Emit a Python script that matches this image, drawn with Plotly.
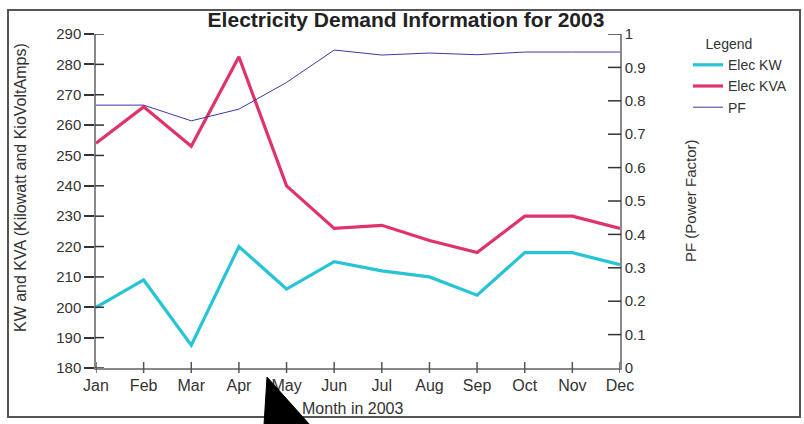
import plotly.graph_objects as go

months = ["Jan", "Feb", "Mar", "Apr", "May", "Jun", "Jul", "Aug", "Sep", "Oct", "Nov", "Dec"]
elec_kw = [200, 209, 187.5, 220, 206, 215, 212, 210, 204, 218, 218, 214]
elec_kva = [254, 266, 253, 282.5, 240, 226, 227, 222, 218, 230, 230, 226]
pf = [0.787, 0.787, 0.74, 0.775, 0.855, 0.952, 0.937, 0.943, 0.938, 0.946, 0.946, 0.946]
left_ticks = list(range(180, 300, 10))
right_ticks = [round(i / 10, 1) for i in range(0, 11)]

L, R, T, B = 96, 620, 34, 368
W, H = 804, 424
pw, ph = R - L, B - T

def px(x):
    return (x - L) / pw

def py(y):
    return (B - y) / ph

font = "Liberation Sans, Arial, sans-serif"
txt = "#333"

fig = go.Figure()
fig.add_trace(go.Scatter(x=months, y=elec_kw, name="Elec KW", mode="lines",
                         line=dict(color="#27c3d6", width=3.2)))
fig.add_trace(go.Scatter(x=months, y=elec_kva, name="Elec KVA", mode="lines",
                         line=dict(color="#e0336b", width=3.2)))
fig.add_trace(go.Scatter(x=months, y=pf, name="PF", mode="lines", yaxis="y2",
                         line=dict(color="#3a3aa0", width=1)))

fig.update_layout(
    width=W, height=H,
    margin=dict(l=L, r=W - R, t=T, b=H - B),
    paper_bgcolor="white", plot_bgcolor="white",
    font=dict(family=font, size=15, color=txt),
    showlegend=True,
    legend=dict(x=px(688), y=py(31), xanchor="left", yanchor="top",
                title=dict(text="    Legend", font=dict(size=14, color=txt), side="top"),
                font=dict(size=14, color=txt), tracegroupgap=0, itemwidth=30,
                bgcolor="rgba(0,0,0,0)"),
    title=dict(text="<b>Electricity Demand Information for 2003</b>",
               x=406 / W, xanchor="center", y=1 - 20 / H, yanchor="middle",
               font=dict(size=21, color="#222", family=font)),
    xaxis=dict(type="category", range=[0, 11], showgrid=False, zeroline=False,
               showline=True, linecolor="#888", linewidth=1.5,
               ticks="", ticklabelstandoff=2,
               tickfont=dict(size=16, color=txt)),
    yaxis=dict(range=[180, 290], tickvals=left_ticks, showgrid=False, zeroline=False,
               showline=True, linecolor="#888", linewidth=1.5,
               ticks="outside", ticklen=10, tickcolor="#333", tickwidth=1.5,
               tickfont=dict(size=15, color=txt)),
    yaxis2=dict(range=[0, 1], tickvals=right_ticks, overlaying="y", side="right",
                showgrid=False, zeroline=False,
                showline=True, linecolor="#888", linewidth=1.5,
                ticks="outside", ticklen=0, tickcolor="#333",
                tickfont=dict(size=15, color=txt)),
    annotations=[
        dict(text="KW and KVA (Kilowatt and KioVoltAmps)", xref="paper", yref="paper",
             x=px(20), y=py(188), textangle=-90, showarrow=False,
             xanchor="center", yanchor="middle", font=dict(size=16, color=txt)),
        dict(text="PF (Power Factor)", xref="paper", yref="paper",
             x=px(690), y=py(201), textangle=-90, showarrow=False,
             xanchor="center", yanchor="middle", font=dict(size=15, color=txt)),
        dict(text="Month in 2003", xref="paper", yref="paper",
             x=px(353), y=py(408), showarrow=False,
             xanchor="center", yanchor="middle", font=dict(size=16, color=txt)),
    ],
    shapes=[
        dict(type="rect", xref="paper", yref="paper",
             x0=px(8), x1=px(800), y0=py(417), y1=py(10),
             line=dict(color="#555", width=2), fillcolor="rgba(0,0,0,0)", layer="below"),
        dict(type="path", xref="paper", yref="paper",
             path=f"M {px(267)} {py(377)} L {px(264)} {py(425)} L {px(310)} {py(425)} Z",
             fillcolor="black", line=dict(color="black", width=1), layer="above"),
    ],
)

# tick marks crossing the axes
for v in right_ticks[1:]:
    fig.add_shape(type="line", xref="paper", yref="y2", x0=px(608), x1=px(621),
                  y0=v, y1=v, line=dict(color="#333", width=1.5))
for v in left_ticks:
    fig.add_shape(type="line", xref="paper", yref="y", x0=px(95), x1=px(104),
                  y0=v, y1=v, line=dict(color="#333", width=1.5))
for m in months:
    fig.add_shape(type="line", xref="x", yref="paper", x0=m, x1=m,
                  y0=py(373), y1=py(362), line=dict(color="#555", width=1.5))

fig.write_html("out.html")
